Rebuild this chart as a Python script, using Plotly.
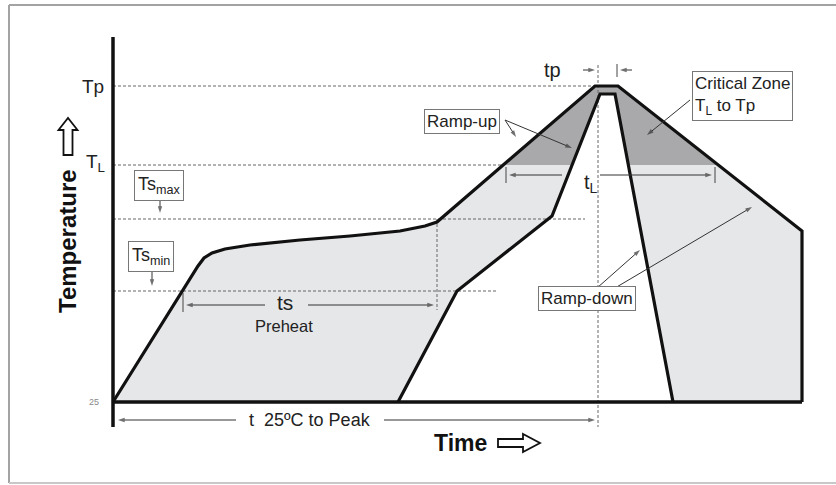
import numpy as np
import plotly.graph_objects as go

# ---------------- data (diagram units: time to the right, temperature upward) -------------
T_BASE = 83      # 25 °C level
T_SMIN = 194     # Ts min
T_SMAX = 266     # Ts max
T_L = 320        # liquidus
T_P = 399        # peak
T_P_IN = 391     # peak of the fast (inner) profile

# slow (outer) profile
outer_time = [113, 198, 204, 212, 225, 250, 300, 350, 400, 425, 437, 595, 618, 802, 802]
outer_temp = [T_BASE, 219, 227, 232, 236, 240, 245, 249, 254, 259, 263, T_P, T_P, 254, T_BASE]

# fast (inner) profile
inner_time = [398, 457, 552, 600, 615, 673]
inner_temp = [T_BASE, T_SMIN, 269, T_P_IN, T_P_IN, T_BASE]

T_AXIS_X = 113          # time origin
T_END = 802             # end of time axis
PEAK_T = 598            # time of peak
TS_END = 437            # end of soak
TS_START = 183
TL_RANGE = [506, 715]
TP_RANGE = [598, 617]
TSMAX_END = 585
TSMIN_END = 498

FONT = "Arial, Liberation Sans, sans-serif"
LIGHT = "#e6e7e9"
DARK = "#a9a9ab"
DOT = "#666666"


def clip_above(xs, ys, level):
    ox, oy = [], []
    n = len(xs)
    for i in range(n):
        x1, y1 = xs[i], ys[i]
        x2, y2 = xs[(i + 1) % n], ys[(i + 1) % n]
        in1, in2 = y1 >= level, y2 >= level
        if in1:
            ox.append(x1); oy.append(y1)
        if in1 != in2:
            t = (level - y1) / (y2 - y1)
            ox.append(x1 + t * (x2 - x1)); oy.append(level)
    return ox, oy


def crossing(xs, ys, level):
    for i in range(len(xs) - 1):
        if ys[i] < level <= ys[i + 1]:
            t = (level - ys[i]) / (ys[i + 1] - ys[i])
            return xs[i] + t * (xs[i + 1] - xs[i])
    return xs[0]


fig = go.Figure()

# fills
fig.add_trace(go.Scatter(x=outer_time, y=outer_temp, fill="toself", fillcolor=LIGHT,
                         mode="none", hoverinfo="skip"))
dx, dy = clip_above(outer_time, outer_temp, T_L)
fig.add_trace(go.Scatter(x=dx, y=dy, fill="toself", fillcolor=DARK,
                         mode="none", hoverinfo="skip"))
fig.add_trace(go.Scatter(x=inner_time, y=inner_temp, fill="toself", fillcolor="white",
                         mode="none", hoverinfo="skip"))

# dotted reference lines
tl_cross = crossing(outer_time, outer_temp, T_L)
ref_lines = [
    ([T_AXIS_X, 595], [T_P, T_P]),
    ([T_AXIS_X, tl_cross], [T_L, T_L]),
    ([T_AXIS_X, TSMAX_END], [T_SMAX, T_SMAX]),
    ([T_AXIS_X, TSMIN_END], [T_SMIN, T_SMIN]),
    ([TS_END, TS_END], [T_SMAX, 175]),
    ([PEAK_T, PEAK_T], [420, 58]),
]
for xs, ys in ref_lines:
    fig.add_trace(go.Scatter(x=xs, y=ys, mode="lines",
                             line=dict(color=DOT, width=1, dash="3px,2px"), hoverinfo="skip"))

# profile lines
fig.add_trace(go.Scatter(x=outer_time, y=outer_temp, mode="lines",
                         line=dict(color="#111", width=3.2), hoverinfo="skip"))
fig.add_trace(go.Scatter(x=inner_time, y=inner_temp, mode="lines",
                         line=dict(color="#111", width=3.2), hoverinfo="skip"))
# axes
fig.add_trace(go.Scatter(x=[T_AXIS_X, T_AXIS_X], y=[448, 58], mode="lines",
                         line=dict(color="#111", width=3.5), hoverinfo="skip"))
fig.add_trace(go.Scatter(x=[T_AXIS_X, T_END], y=[T_BASE, T_BASE], mode="lines",
                         line=dict(color="#111", width=3.5), hoverinfo="skip"))

# small ticks
ticks = [
    ([TS_START, TS_START], [192, 173]),
    ([TL_RANGE[0], TL_RANGE[0]], [318, 302]),
    ([TL_RANGE[1], TL_RANGE[1]], [318, 302]),
    ([TP_RANGE[1], TP_RANGE[1]], [421, 408]),
]
for xs, ys in ticks:
    fig.add_trace(go.Scatter(x=xs, y=ys, mode="lines",
                             line=dict(color="#444", width=1), hoverinfo="skip"))


def arrow(x0, y0, x1, y1):
    # line with an arrowhead marker at its end
    fig.add_trace(go.Scatter(x=[x0, x1], y=[y0, y1], mode="lines+markers",
                             line=dict(color="#333", width=1),
                             marker=dict(symbol="arrow", size=[0, 7], angleref="previous",
                                         color="#333", line=dict(width=0)),
                             hoverinfo="skip"))


ann = []


def text(x, y, s, size=18, bold=False, color="#222", **kw):
    ann.append(dict(x=x, y=y, text=("<b>%s</b>" % s) if bold else s, showarrow=False,
                    font=dict(family=FONT, size=size, color=color), **kw))


def box(x, y, s, size=17, pad=2, **kw):
    ann.append(dict(x=x, y=y, text=s, showarrow=False, bgcolor="white",
                    bordercolor="#777", borderwidth=1, borderpad=pad,
                    font=dict(family=FONT, size=size, color="#222"), **kw))


text(106, T_P, "Tp", size=19, xanchor="right")
text(107, 322, "T<sub>L</sub>", size=19, xanchor="right")
text(101, T_BASE, "25", size=9, color="#888", xanchor="right")

box(159, 300, "Ts<sub>max</sub>", size=18, pad=3)
arrow(160, 288, 160, 272)
box(151, 229, "Ts<sub>min</sub>", size=18, pad=3)
arrow(152, 216, 152, 199)

text(285, 183, "ts", size=21)
arrow(265, 180, TS_START + 3, 180)
arrow(308, 180, TS_END - 3, 180)
text(284, 159, "Preheat", size=16.5)

text(552, 415, "tp", size=20)
arrow(583, 415, TP_RANGE[0] - 3, 415)
arrow(632, 415, TP_RANGE[1] + 3, 415)

box(742, 389, "Critical Zone<br>T<sub>L</sub> to Tp", size=17, align="left")
arrow(690, 385, 647, 350)

box(462, 364, "Ramp-up")
arrow(505, 365, 516, 348)
arrow(505, 365, 572, 337)

text(591, 302, "t<sub>L</sub>", size=20)
arrow(562, 310, TL_RANGE[0] + 3, 310)
arrow(600, 310, TL_RANGE[1] - 3, 310)

box(587, 186.5, "Ramp-down")
arrow(597, 197, 640, 235)
arrow(615, 197, 752, 278)

text(310, 65, "t  25ºC to Peak", size=18)
arrow(236, 65, T_AXIS_X + 5, 65)
arrow(384, 65, PEAK_T - 3, 65)

text(460, 42, "Time", size=23, bold=True, color="#111")
text(67, 244, "Temperature", size=24, bold=True, color="#111", textangle=-90)

# hollow block arrows (⇨ and ⇧)
shapes = []
ax0, ax1, ahead, acy = 498, 540, 523, 42
shapes.append(dict(type="path", xref="x", yref="y",
                   path=f"M {ax0},{acy-4} L {ahead},{acy-4} L {ahead},{acy-9} L {ax1},{acy} "
                        f"L {ahead},{acy+9} L {ahead},{acy+4} L {ax0},{acy+4} Z",
                   line=dict(color="#111", width=1.8), fillcolor="white"))
ux, ub, uh, ut = 68, 330, 355, 367
shapes.append(dict(type="path", xref="x", yref="y",
                   path=f"M {ux-4.5},{ub} L {ux-4.5},{uh} L {ux-9.5},{uh} L {ux},{ut} "
                        f"L {ux+9.5},{uh} L {ux+4.5},{uh} L {ux+4.5},{ub} Z",
                   line=dict(color="#111", width=1.8), fillcolor="white"))
# outer frame: left, top, bottom edges
frame = dict(type="line", xref="x", yref="y", layer="below")
shapes.append(dict(frame, x0=9, x1=9, y0=2, y1=480, line=dict(color="#a3a3a3", width=2)))
shapes.append(dict(frame, x0=9, x1=836, y0=480, y1=480, line=dict(color="#a3a3a3", width=2)))
shapes.append(dict(frame, x0=9, x1=836, y0=2, y1=2, line=dict(color="#c8c8c8", width=2)))

fig.update_layout(
    width=836, height=485, margin=dict(l=0, r=0, t=0, b=0),
    paper_bgcolor="white", plot_bgcolor="white", showlegend=False,
    xaxis=dict(range=[0, 836], visible=False, fixedrange=True),
    yaxis=dict(range=[0, 485], visible=False, fixedrange=True),
    annotations=ann, shapes=shapes,
)

fig.write_html("out.html", config={"displayModeBar": False},
               post_script="document.body.style.margin='0';")
